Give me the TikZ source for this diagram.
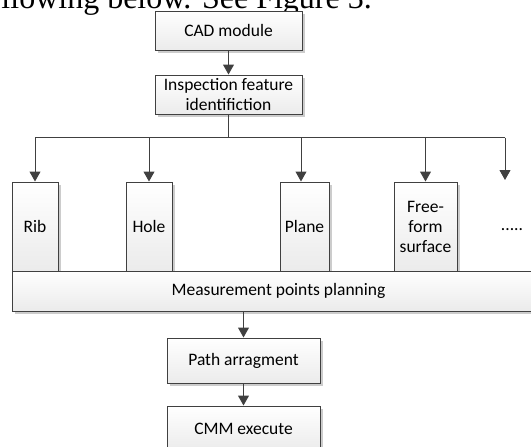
\documentclass[tikz,border=0pt]{standalone}
\usepackage{fontspec}
\setmainfont{Carlito}
\newfontfamily\bodyfont{Liberation Serif}
\usepackage{tikz}
\usetikzlibrary{arrows.meta,shadows,calc}
\newcommand{\clrline}{linegray}
\definecolor{linegray}{HTML}{404040}
\definecolor{boxgray}{HTML}{EBEBEB}

\tikzset{
    box/.style={draw=\clrline, line width=1pt, top color=white, bottom color=boxgray,
        align=center, inner sep=2pt,
        drop shadow={shadow xshift=3pt, shadow yshift=-3pt, fill=black!20, opacity=1}},
    arr/.style={draw=\clrline, line width=1pt, -{Triangle[length=10pt,width=11pt]}},
    wire/.style={draw=\clrline, line width=1pt}
}

\begin{document}
\begin{tikzpicture}[x=1pt, y=-1pt, font=\fontsize{17.5}{20}\selectfont]

    \useasboundingbox (0,0) rectangle (531,447);
    \clip (0,0) rectangle (531,447);

    % text of the page above the figure
    \node[anchor=base east, inner sep=0pt, font=\bodyfont\fontsize{32}{36}\selectfont] (caption) at (372,9) {following below. See Figure 3.};

    \node[box, minimum width=147pt, minimum height=39pt] (cad) at (228.5,30.5) {CAD module};
    \node[box, minimum width=147pt, minimum height=39pt] (insp) at (228.5,94.5) {Inspection feature\\identifiction};

    \node[box, minimum width=46pt, minimum height=89pt] (rib) at (35,226.5) {Rib};
    \node[box, minimum width=46pt, minimum height=89pt] (hole) at (149,226.5) {Hole};
    \node[box, minimum width=49pt, minimum height=89pt] (plane) at (304.5,226.5) {Plane};
    \node[box, minimum width=63pt, minimum height=89pt] (free) at (425.5,226.5) {Free-\\form\\surface};
    \node (more) at (512,230) {.....};
    \coordinate (moretop) at (505,180);

    \node[box, minimum width=533pt, minimum height=40pt] (meas) at (278.5,291) {Measurement points planning};
    \node[box, minimum width=153pt, minimum height=45pt] (route) at (243.5,360.5) {Path arragment};
    \node[box, minimum width=153pt, minimum height=45pt] (cmm) at (243.5,428.5) {CMM execute};

    \draw[arr] (cad) -- (insp);
    \draw[wire] (insp.south) -- ++(0,23) coordinate (bus);
    \draw[wire] (rib.north |- bus) -- (moretop |- bus);
    \draw[arr] (rib.north |- bus) -- (rib.north);
    \draw[arr] (hole.north |- bus) -- (hole.north);
    \draw[arr] ([xshift=-3.5pt]plane.north |- bus) -- ([xshift=-3.5pt]plane.north);
    \draw[arr] (free.north |- bus) -- (free.north);
    \draw[arr] (moretop |- bus) -- (moretop);
    \draw[arr] (route.north |- meas.south) -- (route.north);
    \draw[arr] (route) -- (cmm);

\end{tikzpicture}
\end{document}
